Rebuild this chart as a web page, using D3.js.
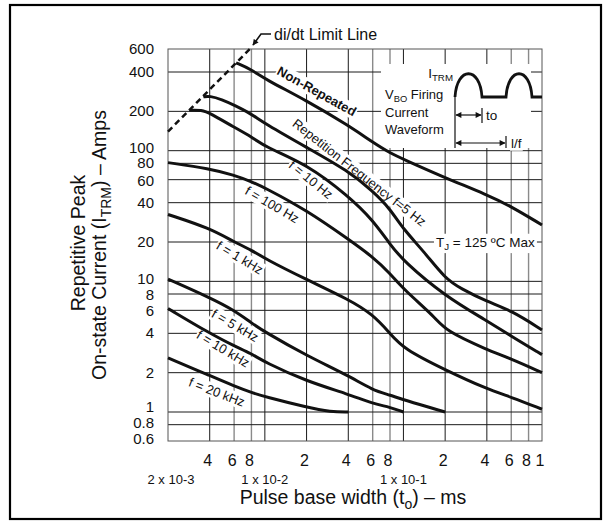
<!DOCTYPE html>
<html>
<head>
<meta charset="utf-8">
<script src="https://cdn.jsdelivr.net/npm/d3@7"></script>
<style>
	body { margin: 0; background: #fff; }
	svg { font-family: "Liberation Sans", Arial, Helvetica, sans-serif; }
</style>
</head>
<body>
<svg id="chart" width="611" height="525"></svg>
<script>
// pulse base width (ms) -> repetitive peak on-state current (A)
var nonRepeated = [[6.2e-3,470],[8e-3,418],[1e-2,353],[2e-2,242],[4e-2,156],[6e-2,116],[8e-2,96],[0.1,86],[0.2,62],[0.4,46],[0.6,37.4],[1,27]];
var f5Hz = [[3.6e-3,258],[4e-3,263],[4.9e-3,246],[6e-3,223],[8e-3,191],[1e-2,161],[2e-2,106],[4e-2,70],[6e-2,49],[8e-2,36],[0.1,25],[0.14,17],[0.2,10.5],[0.26,8.8],[0.4,7],[0.6,6],[1,4.25]];
var f10Hz = [[2.85e-3,204],[3.5e-3,205],[4e-3,194],[6e-3,151],[8e-3,128],[1e-2,107],[2e-2,79],[4e-2,45],[6e-2,29.5],[8e-2,19.2],[0.1,14.3],[0.2,7.7],[0.4,5],[0.6,3.8],[1,2.75]];
var f100Hz = [[2e-3,81],[4e-3,73],[6e-3,65],[8e-3,58],[1e-2,52],[2e-2,35],[4e-2,21],[6e-2,15.4],[8e-2,11.5],[0.1,8.7],[0.17,5.3],[0.2,4.2],[0.4,3.0],[0.6,2.55],[1,2]];
var f1kHz = [[2e-3,32.5],[4e-3,25.5],[6e-3,20],[8e-3,17.4],[1e-2,14.9],[2e-2,10.3],[4e-2,7.3],[6e-2,5.6],[8e-2,4],[0.1,3.05],[0.2,2.1],[0.4,1.5],[0.6,1.3],[1,1.05]];
var f5kHz = [[2e-3,10.4],[4e-3,7.5],[6e-3,6],[8e-3,4.8],[1e-2,4.1],[2e-2,2.7],[4e-2,1.9],[6e-2,1.47],[8e-2,1.35],[0.1,1.24],[0.2,1.0]];
var f10kHz = [[2e-3,6.2],[4e-3,4],[6e-3,3.2],[8e-3,2.8],[1e-2,2.4],[2e-2,1.72],[4e-2,1.37],[6e-2,1.16],[8e-2,1.09],[0.1,1.0]];
var f20kHz = [[2e-3,2.6],[4e-3,1.9],[6e-3,1.58],[8e-3,1.41],[1e-2,1.31],[2e-2,1.09],[3e-2,1.0],[4e-2,1.0]];
var diDtLimit = [[2e-3,140],[7.8e-3,600]];

var xGridMajor = [4e-3,1e-2,2e-2,4e-2,0.1,0.2,0.4];
var xGridMinor = [6e-3,8e-3,6e-2,8e-2,0.6,0.8];
var yGrid = [0.8,1,2,4,6,8,10,20,40,60,80,100,200,400];
var yTickLabels = [600,400,200,100,80,60,40,20,10,8,6,4,2,1,0.8,0.6];
var xTickValues = [4e-3,6e-3,8e-3,2e-2,4e-2,6e-2,8e-2,0.2,0.4,0.6,0.8,1];
var xTickText = ['4','6','8','2','4','6','8','2','4','6','8','1'];
var xDecadeValues = [2e-3,1e-2,0.1];
var xDecadeText = ['2 x 10-3','1 x 10-2','1 x 10-1'];

var svg = d3.select('#chart');
var x = d3.scaleLog().domain([2e-3, 1]).range([168, 542]);
var y = d3.scaleLog().domain([0.6, 600]).range([441, 49]);

var defs = svg.append('defs');
defs.append('marker').attr('id','arr').attr('viewBox','0 0 10 10')
	.attr('refX',9).attr('refY',5).attr('markerWidth',7).attr('markerHeight',6)
	.attr('markerUnits','userSpaceOnUse').attr('orient','auto-start-reverse')
	.append('path').attr('d','M0,0 L10,5 L0,10 Z').attr('fill','#111');

svg.append('rect').attr('x',10).attr('y',5).attr('width',591).attr('height',514)
	.attr('fill','#fff').attr('stroke','#000').attr('stroke-width',2.2);

// grid
var grid = svg.append('g');
grid.selectAll('.gmaj').data(xGridMajor).enter().append('line')
	.attr('x1',function(d){return x(d);}).attr('x2',function(d){return x(d);})
	.attr('y1',y(600)).attr('y2',y(0.6))
	.attr('stroke','#1a1a1a').attr('stroke-width',1);
grid.selectAll('.gmin').data(xGridMinor).enter().append('line')
	.attr('x1',function(d){return x(d);}).attr('x2',function(d){return x(d);})
	.attr('y1',y(600)).attr('y2',y(0.6))
	.attr('stroke','#8a8a8a').attr('stroke-width',1.4);
grid.selectAll('.gy').data(yGrid).enter().append('line')
	.attr('x1',x(2e-3)).attr('x2',x(1))
	.attr('y1',function(d){return y(d);}).attr('y2',function(d){return y(d);})
	.attr('stroke','#1a1a1a').attr('stroke-width',1);
grid.append('rect').attr('x',x(2e-3)).attr('y',y(600))
	.attr('width',x(1)-x(2e-3)).attr('height',y(0.6)-y(600))
	.attr('fill','none').attr('stroke','#555').attr('stroke-width',1);

var maskLayer = svg.append('g');
var curveLayer = svg.append('g');
var labelLayer = svg.append('g');

// text helper: parts = [[string, isSub], ...]; white box behind masks the grid
function addText(px, py, angle, parts, size, anchor, weight, pad) {
	var tr = 'translate(' + px + ',' + py + ') rotate(' + angle + ')';
	var g = labelLayer.append('g').attr('transform', tr);
	var t = g.append('text').attr('text-anchor', anchor).attr('dy','0.35em')
		.attr('font-size', size).attr('font-weight', weight || 'normal').attr('fill','#111');
	var prevSub = false;
	parts.forEach(function(p) {
		var s = t.append('tspan').text(p[0]);
		if (p[1]) { s.attr('font-size', size * 0.72).attr('dy', size * 0.25); }
		else if (prevSub) { s.attr('dy', -size * 0.25); }
		prevSub = p[1];
	});
	if (pad !== undefined) {
		var b = t.node().getBBox();
		maskLayer.append('rect').attr('transform', tr)
			.attr('x', b.x - pad).attr('y', b.y + 1 - pad)
			.attr('width', b.width + pad * 2).attr('height', b.height - 2 + pad * 2)
			.attr('fill','#fff');
	}
	return t;
}

// inset waveform panel
maskLayer.append('rect').attr('x',381).attr('y',64).attr('width',150).attr('height',84).attr('fill','#fff');

// curves
var line = d3.line().x(function(d){return x(d[0]);}).y(function(d){return y(d[1]);})
	.curve(d3.curveBasis);
[nonRepeated, f5Hz, f10Hz, f100Hz, f1kHz, f5kHz, f10kHz, f20kHz].forEach(function(c) {
	curveLayer.append('path').datum(c).attr('d', line)
		.attr('fill','none').attr('stroke','#111').attr('stroke-width',3)
		.attr('stroke-linejoin','round').attr('stroke-linecap','butt');
});
curveLayer.append('path').datum(diDtLimit)
	.attr('d', d3.line().x(function(d){return x(d[0]);}).y(function(d){return y(d[1]);}))
	.attr('fill','none').attr('stroke','#111').attr('stroke-width',2.5)
	.attr('stroke-dasharray','6,4');

// curve labels (anchored in data space)
var curveLabels = [
	{at:[2.37e-2,285], angle:29, text:'Non-Repeated', weight:'bold'},
	{at:[4.8e-2,68], angle:38, text:'Repetition Frequency f=5 Hz'},
	{at:[2.15e-2,60], angle:39, text:'f = 10 Hz'},
	{at:[1.13e-2,38.7], angle:30, text:'f = 100 Hz'},
	{at:[6.6e-3,15.2], angle:31, text:'f = 1 kHz'},
	{at:[6.1e-3,4.6], angle:30, text:'f = 5 kHz'},
	{at:[5e-3,3.05], angle:31, text:'f = 10 kHz'},
	{at:[4.5e-3,1.42], angle:21, text:'f = 20 kHz'}
];
curveLabels.forEach(function(l) {
	addText(x(l.at[0]), y(l.at[1]), l.angle, [[l.text,false]], 13, 'middle', l.weight, 1);
});
addText(x(0.39), y(20), 0, [['T',false],['J',true],[' = 125 ºC Max',false]], 13.5, 'middle', null, 2);

// inset texts and waveform
addText(453, 73, 0, [['I',false],['TRM',true]], 13.5, 'end');
addText(385, 94, 0, [['V',false],['BO',true],[' Firing',false]], 13, 'start');
addText(385, 112, 0, [['Current',false]], 13, 'start');
addText(385, 129, 0, [['Waveform',false]], 13, 'start');
labelLayer.append('path')
	.attr('d','M455,97 C457,66 480,66 482,97 L506,97 C508,66 530,66 532,97 L542,97')
	.attr('fill','none').attr('stroke','#111').attr('stroke-width',2.8);
var dims = labelLayer.append('g').attr('stroke','#111').attr('stroke-width',1.2);
dims.append('line').attr('x1',455).attr('x2',455).attr('y1',97).attr('y2',148);
dims.append('line').attr('x1',456).attr('x2',481).attr('y1',115).attr('y2',115)
	.attr('marker-start','url(#arr)').attr('marker-end','url(#arr)');
dims.append('line').attr('x1',482).attr('x2',482).attr('y1',108).attr('y2',123);
dims.append('line').attr('x1',456).attr('x2',505).attr('y1',143).attr('y2',143)
	.attr('marker-start','url(#arr)').attr('marker-end','url(#arr)');
dims.append('line').attr('x1',506).attr('x2',506).attr('y1',136).attr('y2',148);
addText(486, 115, 0, [['to',false]], 13.5, 'start');
addText(511, 143, 0, [['l/f',false]], 13.5, 'start', null, 1);

// di/dt limit line callout
addText(274, 34, 0, [['di/dt Limit Line',false]], 16, 'start');
labelLayer.append('path').attr('d','M271,34 L261,34 L253,45')
	.attr('fill','none').attr('stroke','#111').attr('stroke-width',1.6)
	.attr('marker-end','url(#arr)');

// axes labels; the close pairs are pulled apart a little, as on the sheet
var yNudge = {100:-3, 80:0, 60:1.5, 10:-2, 8:1, 6:1, 1:-5, 0.8:-2, 0.6:-2};
var ticks = svg.append('g').attr('fill','#111');
ticks.selectAll('.yl').data(yTickLabels).enter().append('text')
	.attr('x',154).attr('y',function(d){return y(d) + (yNudge[d] || 0);}).attr('dy','0.33em')
	.attr('text-anchor','end').attr('font-size',15)
	.text(function(d){return d;});
ticks.selectAll('.xl').data(xTickValues).enter().append('text')
	.attr('x',function(d){return x(d) - 2;}).attr('y',466)
	.attr('text-anchor','middle').attr('font-size',16)
	.text(function(d,i){return xTickText[i];});
ticks.selectAll('.xd').data(xDecadeValues).enter().append('text')
	.attr('x',function(d,i){return x(d) + (i === 0 ? 3 : 0);}).attr('y',484)
	.attr('text-anchor','middle').attr('font-size',13)
	.text(function(d,i){return xDecadeText[i];});

var xt = ticks.append('text').attr('x',353).attr('y',504).attr('text-anchor','middle').attr('font-size',19.5);
xt.append('tspan').text('Pulse base width (t');
xt.append('tspan').text('o').attr('font-size',14).attr('dy',5);
xt.append('tspan').text(') \u2013 ms').attr('dy',-5);

ticks.append('text').attr('transform','translate(78,243) rotate(-90)')
	.attr('text-anchor','middle').attr('dy','0.35em').attr('font-size',19.5)
	.text('Repetitive Peak');
var yt = ticks.append('text').attr('transform','translate(99,245) rotate(-90)')
	.attr('text-anchor','middle').attr('dy','0.35em').attr('font-size',19.5);
yt.append('tspan').text('On-state Current (I');
yt.append('tspan').text('TRM').attr('font-size',14).attr('dy',5);
yt.append('tspan').text(') \u2013 Amps').attr('dy',-5);
</script>
</body>
</html>
